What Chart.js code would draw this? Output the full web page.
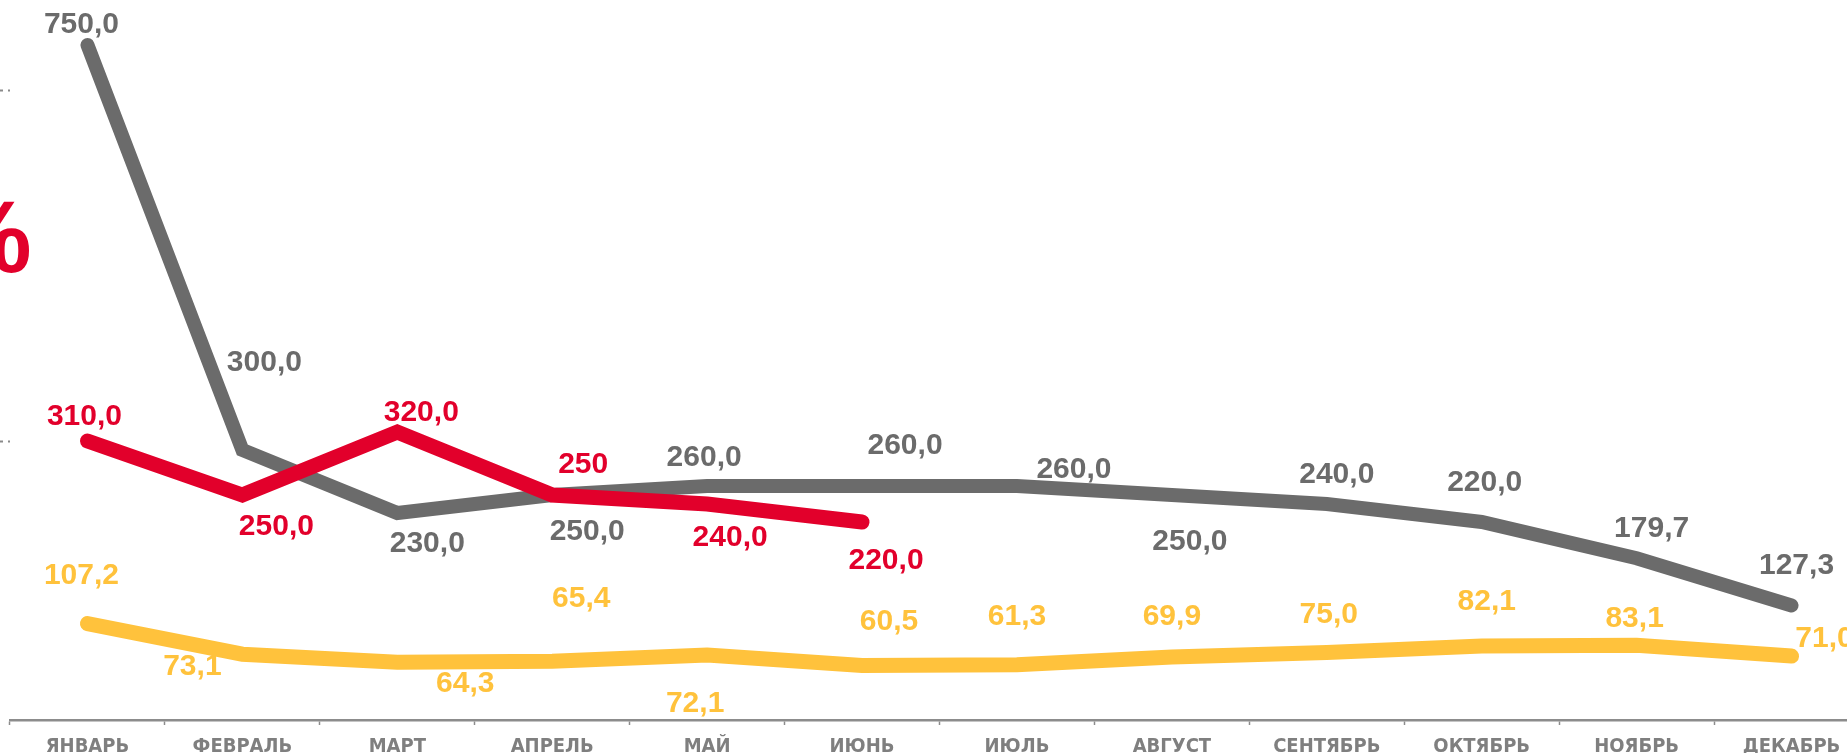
<!DOCTYPE html>
<html>
<head>
<meta charset="utf-8">
<script src="https://cdn.jsdelivr.net/npm/chart.js@4.4.1/dist/chart.umd.min.js"></script>
<style>
  html, body { margin: 0; padding: 0; background: #ffffff; overflow: hidden; }
  body { width: 1847px; height: 753px; position: relative; }
  #wrap { position: absolute; left: -2px; top: 0; width: 1871px; height: 769px; }
  #pct { position: absolute; left: -59px; top: 187px; font: bold 102px "Liberation Sans", Arial, sans-serif; line-height: 100px; color: #e2002b; }
</style>
</head>
<body>
<div id="pct">%</div>
<div id="wrap"><canvas id="c"></canvas></div>
<script>
const categories = ['ЯНВАРЬ','ФЕВРАЛЬ','МАРТ','АПРЕЛЬ','МАЙ','ИЮНЬ','ИЮЛЬ','АВГУСТ','СЕНТЯБРЬ','ОКТЯБРЬ','НОЯБРЬ','ДЕКАБРЬ'];

const grayValues   = [750, 300, 230, 250, 260, 260, 260, 250, 240, 220, 179.7, 127.3];
const redValues    = [310, 250, 320, 250, 240, 220, null, null, null, null, null, null];
const yellowValues = [107.2, 73.1, 64.3, 65.4, 72.1, 60.5, 61.3, 69.9, 75.0, 82.1, 83.1, 71.0];

const grayLabels   = ['750,0','300,0','230,0','250,0','260,0','260,0','260,0','250,0','240,0','220,0','179,7','127,3'];
const redLabels    = ['310,0','250,0','320,0','250','240,0','220,0','','','','','',''];
const yellowLabels = ['107,2','73,1','64,3','65,4','72,1','60,5','61,3','69,9','75,0','82,1','83,1','71,0'];

const yTickValues = [310, 700];

// label offsets (px) relative to each point
const grayOffsets   = [[-6,-20],[22,-87],[30,31],[35,37],[-3,-28],[43,-40],[57,-16],[18,47],[10,-29],[3,-39],[15,-30],[5,-40]];
const redOffsets    = [[-3,-24],[34,32],[24,-19],[31,-30],[23,34],[24,39]];
const yellowOffsets = [[-6,-48],[-50,13],[68,22],[29,-62],[-12,49],[27,-44],[0,-48],[0,-40],[2,-38],[5,-44],[-2,-26],[33,-17]];

const GRAY = '#6b6b6b', RED = '#e2002b', YELLOW = '#ffc23c';

const labelPlugin = {
  id: 'valueLabels',
  afterDatasetsDraw(chart) {
    const ctx = chart.ctx;
    ctx.save();
    ctx.font = 'bold 30px "Liberation Sans", Arial, sans-serif';
    ctx.textAlign = 'center';
    ctx.textBaseline = 'middle';
    chart.data.datasets.forEach((ds, di) => {
      const meta = chart.getDatasetMeta(di);
      ds.valueLabels.forEach((txt, i) => {
        if (!txt) return;
        const el = meta.data[i];
        if (!el || el.skip) return;
        const off = ds.labelOffsets[i] || [0, 0];
        ctx.fillStyle = ds.labelColor;
        ctx.fillText(txt, el.x + off[0], el.y + off[1]);
      });
    });
    ctx.restore();
  }
};

new Chart(document.getElementById('c'), {
  type: 'line',
  data: {
    labels: categories,
    datasets: [
      { data: redValues, borderColor: RED, borderWidth: 15, order: 0,
        valueLabels: redLabels, labelOffsets: redOffsets, labelColor: RED },
      { data: grayValues, borderColor: GRAY, borderWidth: 14, order: 1,
        valueLabels: grayLabels, labelOffsets: grayOffsets, labelColor: GRAY },
      { data: yellowValues, borderColor: YELLOW, borderWidth: 15, order: 2,
        valueLabels: yellowLabels, labelOffsets: yellowOffsets, labelColor: YELLOW }
    ]
  },
  options: {
    responsive: true,
    maintainAspectRatio: false,
    animation: false,
    devicePixelRatio: 1,
    layout: { padding: 0 },
    elements: {
      line: { tension: 0, borderCapStyle: 'round', borderJoinStyle: 'miter', fill: false },
      point: { radius: 0, hoverRadius: 0 }
    },
    plugins: { legend: { display: false }, tooltip: { enabled: false } },
    scales: {
      x: {
        offset: true,
        grid: { display: true, offset: true, drawOnChartArea: false, drawTicks: true, tickLength: 5, tickColor: '#8c8c8c', tickWidth: 1.5 },
        border: { display: true, color: '#8c8c8c', width: 2.5 },
        ticks: { color: '#7f7f7f', padding: 10, maxRotation: 0, autoSkip: false,
          font: { family: '"Liberation Sans Narrow", "Arial Narrow", "DejaVu Sans Condensed", sans-serif', weight: 'bold', size: 20 } }
      },
      y: {
        min: 0, max: 800,
        afterBuildTicks(scale) { scale.ticks = yTickValues.map(v => ({ value: v })); },
        grid: { display: true, drawOnChartArea: false, drawTicks: true, tickLength: 12, tickColor: '#8a8a8a', tickWidth: 2, tickBorderDash: [5, 5] },
        border: { display: false },
        ticks: { display: false }
      }
    }
  },
  plugins: [labelPlugin]
});
</script>
</body>
</html>
